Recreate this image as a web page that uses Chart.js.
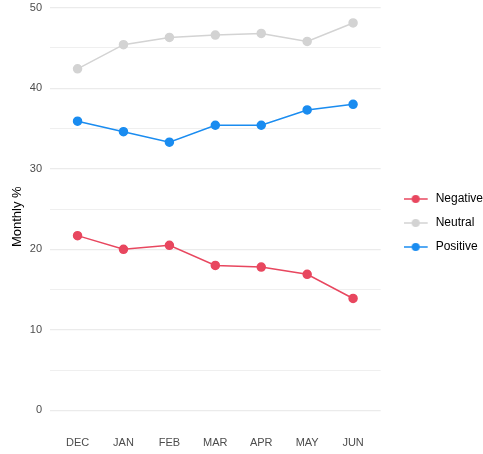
<!DOCTYPE html>
<html>
<head>
<meta charset="utf-8">
<script src="https://cdn.jsdelivr.net/npm/chart.js@4.4.1/dist/chart.umd.min.js"></script>
<style>
  html, body { margin: 0; padding: 0; background: #fff; overflow: hidden; }
  #wrap { width: 483px; height: 472px; margin-top: -11px; }
</style>
</head>
<body>
<div id="wrap"><canvas id="sentimentChart"></canvas></div>
<script>
// chart data
const months = ['DEC', 'JAN', 'FEB', 'MAR', 'APR', 'MAY', 'JUN'];
const negative = [21.7, 20.0, 20.5, 18.0, 17.8, 16.9, 13.9];
const neutral = [42.4, 45.4, 46.3, 46.6, 46.8, 45.8, 48.1];
const positive = [35.9, 34.6, 33.3, 35.4, 35.4, 37.3, 38.0];
const yTicks = [0, 5, 10, 15, 20, 25, 30, 35, 40, 45, 50];

const colors = {
    Negative: '#e8475f',
    Neutral: '#d3d3d3',
    Positive: '#1a8cf0'
};

// little line+dot swatch for the legend
function swatch(color) {
    const c = document.createElement('canvas');
    c.width = 26;
    c.height = 10;
    const ctx = c.getContext('2d');
    ctx.strokeStyle = color;
    ctx.lineWidth = 1.5;
    ctx.beginPath();
    ctx.moveTo(0, 5);
    ctx.lineTo(24, 5);
    ctx.stroke();
    ctx.fillStyle = color;
    ctx.beginPath();
    ctx.arc(12, 5, 4, 0, Math.PI * 2);
    ctx.fill();
    return c;
}

function makeSet(label, values) {
    return {
        label: label,
        data: values.map((v, i) => ({ x: i, y: v })),
        borderColor: colors[label],
        backgroundColor: colors[label],
        borderWidth: 1.5,
        pointRadius: 4,
        pointHoverRadius: 4,
        tension: 0
    };
}

new Chart(document.getElementById('sentimentChart'), {
    type: 'line',
    data: {
        datasets: [
            makeSet('Negative', negative),
            makeSet('Neutral', neutral),
            makeSet('Positive', positive)
        ]
    },
    options: {
        responsive: true,
        maintainAspectRatio: false,
        animation: false,
        layout: {
            padding: { left: 11, right: -10, top: 0, bottom: 4 }
        },
        plugins: {
            legend: {
                position: 'right',
                maxWidth: 200,
                labels: {
                    usePointStyle: true,
                    pointStyleWidth: 26,
                    color: '#000',
                    font: { family: 'Liberation Sans', size: 12 },
                    padding: 12,
                    generateLabels: function (chart) {
                        return chart.data.datasets.map((ds, i) => ({
                            text: ds.label,
                            pointStyle: swatch(ds.borderColor),
                            fillStyle: ds.borderColor,
                            strokeStyle: ds.borderColor,
                            lineWidth: 0,
                            fontColor: '#000',
                            hidden: false,
                            datasetIndex: i
                        }));
                    }
                }
            },
            tooltip: { enabled: false }
        },
        scales: {
            x: {
                type: 'linear',
                min: -0.6,
                max: 6.6,
                afterBuildTicks: function (scale) {
                    scale.ticks = months.map((m, i) => ({ value: i }));
                },
                ticks: {
                    color: '#4d4d4d',
                    font: { family: 'Liberation Sans', size: 11 },
                    maxRotation: 0,
                    autoSkip: false,
                    padding: 7,
                    callback: function (value) {
                        return months[value];
                    }
                },
                grid: { display: false, tickLength: 0 },
                border: { display: false }
            },
            y: {
                min: -2.4,
                max: 50.5,
                afterBuildTicks: function (scale) {
                    scale.ticks = yTicks.map(v => ({ value: v }));
                },
                afterFit: function (scale) {
                    scale.width = 39;
                },
                ticks: {
                    color: '#4d4d4d',
                    font: { family: 'Liberation Sans', size: 11 },
                    padding: 8,
                    callback: function (value) {
                        return value % 10 === 0 ? value : '';
                    }
                },
                grid: {
                    color: '#ebebeb',
                    lineWidth: function (ctx) {
                        return ctx.tick && ctx.tick.value % 10 === 0 ? 1.2 : 0.8;
                    },
                    drawTicks: false,
                    tickLength: 0
                },
                border: { display: false },
                title: {
                    display: true,
                    text: 'Monthly %',
                    color: '#000',
                    font: { family: 'Liberation Sans', size: 13, lineHeight: 1 },
                    padding: { top: 0, bottom: 5 }
                }
            },
            // empty axis, only keeps a gap between plot and legend
            gap: {
                type: 'linear',
                position: 'right',
                display: true,
                afterFit: function (scale) {
                    scale.width = 11;
                },
                ticks: { display: false },
                grid: { display: false },
                border: { display: false }
            }
        }
    }
});
</script>
</body>
</html>
